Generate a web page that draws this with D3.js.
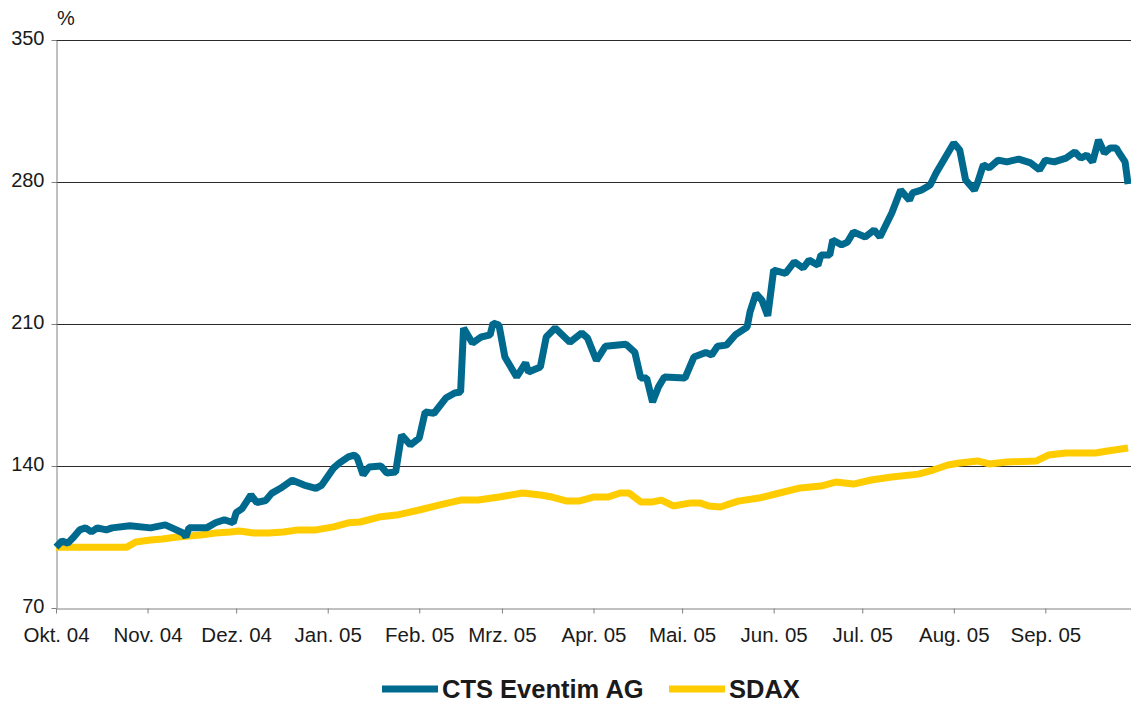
<!DOCTYPE html>
<html>
<head>
<meta charset="utf-8">
<script src="https://cdn.jsdelivr.net/npm/d3@7"></script>
<style>
  body { margin: 0; background: #fff; }
  svg { display: block; font-family: "Liberation Sans", Arial, sans-serif; }
</style>
</head>
<body>
<div id="chart"></div>
<script>
// Days since 1 Oct 2004 and indexed value (%)
const ctsDays = [0, 2, 4, 6, 8, 10, 12, 14, 17, 19, 25, 32, 37, 40, 43, 44, 45, 51, 54, 57, 60, 61, 63, 66, 68, 71, 73, 76, 80, 84, 88, 90, 94, 96, 99, 101, 102, 104, 106, 110, 112, 115, 117, 120, 123, 125, 128, 132, 135, 137, 138, 141, 144, 147, 148, 150, 152, 156, 159, 160, 164, 166, 169, 174, 178, 180, 183, 186, 193, 196, 198, 200, 202, 204, 206, 213, 216, 220, 222, 224, 227, 230, 234, 235, 237, 239, 241, 243, 247, 250, 253, 255, 258, 259, 262, 263, 266, 268, 270, 274, 277, 279, 283, 286, 289, 290, 293, 296, 298, 300, 304, 306, 308, 311, 312, 314, 316, 319, 322, 326, 330, 333, 335, 338, 342, 345, 347, 349, 351, 353, 355, 357, 359, 360, 362, 363];
const ctsValues = [100, 103, 102, 105, 108.5, 109.5, 107.5, 109.5, 108.5, 109.5, 110.5, 109.5, 111, 109, 107, 105, 109.5, 109.5, 112, 113.5, 112, 117, 119, 125.7, 122, 123, 126.5, 129, 133, 130.6, 129, 130.6, 139, 141.5, 144.5, 145.4, 144, 135.6, 139.5, 140, 136.5, 137, 155.3, 150.4, 153.8, 166.6, 166, 173.5, 176, 176.5, 208, 200.6, 203.6, 204.6, 210.5, 209.5, 193.7, 183.9, 190.8, 186.3, 188.8, 203.6, 208, 201, 205.6, 203, 192, 199, 200, 196, 183.4, 183.4, 171.5, 179, 183.9, 183.4, 193.7, 196, 194.7, 199, 199.6, 204.6, 208.5, 216, 225, 221.8, 214, 236.6, 235, 240.6, 237.6, 241.5, 239, 244, 244, 251.4, 249, 250.4, 255.3, 252.9, 256.3, 252.9, 264.7, 276, 271, 274.6, 276, 278.5, 284.4, 289.4, 299.2, 295.8, 281, 276, 279.5, 288.4, 287, 290.8, 289.9, 291.3, 289.4, 286, 290.8, 289.9, 291.8, 294.8, 291.8, 293.3, 289.9, 300.7, 294.3, 296.8, 296.8, 294.3, 289.9, 279];

const sdaxDays = [0, 24, 27, 32, 36, 41, 45, 49, 54, 59, 62, 67, 72, 77, 82, 88, 94, 99, 103, 110, 116, 123, 130, 137, 143, 150, 158, 164, 168, 173, 177, 182, 187, 191, 194, 198, 202, 205, 209, 215, 218, 221, 225, 227, 231, 238, 245, 252, 259, 264, 270, 276, 283, 292, 297, 302, 306, 312, 316, 322, 332, 336, 342, 352, 356, 363];
const sdaxValues = [100, 100, 102.5, 103.5, 104, 105, 105.5, 106, 107, 107.5, 108, 107, 107, 107.5, 108.5, 108.5, 110, 112, 112.4, 115, 116, 118.3, 120.8, 123.2, 123.2, 124.7, 126.7, 125.7, 124.7, 122.7, 122.7, 124.7, 124.7, 126.7, 126.7, 122.3, 122.3, 123.2, 120.3, 121.8, 121.8, 120.3, 119.8, 120.8, 122.7, 124.2, 126.7, 129.2, 130.1, 132.1, 131.1, 133.1, 134.6, 136, 138, 140.5, 141.5, 142.5, 141, 142, 142.5, 145.4, 146.4, 146.4, 147.4, 148.9];

const monthLabels = ["Okt. 04", "Nov. 04", "Dez. 04", "Jan. 05", "Feb. 05", "Mrz. 05",
  "Apr. 05", "Mai. 05", "Jun. 05", "Jul. 05", "Aug. 05", "Sep. 05"];
const yTicks = [70, 140, 210, 280, 350];
const seriesNames = ["CTS Eventim AG", "SDAX"];
const seriesColors = ["#006a8e", "#ffcc00"];

const width = 1131;
const height = 704;
const margins = { top: 40, right: 0, left: 56, bottom: 96 };

const start = new Date(2004, 9, 1);
const toSeries = (days, values) => days.map((d, i) => ({ date: d3.timeDay.offset(start, d), value: values[i] }));
const cts = toSeries(ctsDays, ctsValues);
const sdax = toSeries(sdaxDays, sdaxValues);

const xScale = d3.scaleTime()
  .domain([start, new Date(2005, 8, 30)])
  .range([margins.left, width - margins.right]);

const yScale = d3.scaleLinear()
  .domain([70, 350])
  .range([height - margins.bottom, margins.top]);

const svg = d3.select('#chart')
  .append('svg')
  .attr('width', width)
  .attr('height', height);

// horizontal grid lines
svg.append('g')
  .selectAll('line')
  .data(yTicks.slice(1))
  .join('line')
  .attr('x1', margins.left)
  .attr('x2', width)
  .attr('y1', d => Math.round(yScale(d)) + 0.5)
  .attr('y2', d => Math.round(yScale(d)) + 0.5)
  .attr('stroke', '#2a2a2a')
  .attr('stroke-width', 1);

// y axis
const yAxis = d3.axisLeft(yScale)
  .tickValues(yTicks)
  .tickSize(5)
  .tickSizeOuter(0)
  .tickPadding(7);

const gy = svg.append('g')
  .attr('transform', `translate(${margins.left + 0.5},0)`)
  .call(yAxis);
gy.select('.domain').attr('stroke', '#808080');
gy.selectAll('.tick line').attr('stroke', '#808080');
gy.selectAll('.tick text')
  .attr('font-size', 20)
  .attr('fill', '#1a1a1a')
  .attr('dy', '0.22em');

// x axis
const monthTicks = d3.timeMonth.range(start, new Date(2005, 9, 1));
const xAxis = d3.axisBottom(xScale)
  .tickValues(monthTicks)
  .tickFormat((d, i) => monthLabels[i])
  .tickSize(5)
  .tickSizeOuter(0)
  .tickPadding(14);

const gx = svg.append('g')
  .attr('transform', `translate(0,${height - margins.bottom + 0.5})`)
  .call(xAxis);
gx.select('.domain').attr('stroke', '#808080');
gx.selectAll('.tick line').attr('stroke', '#808080');
gx.selectAll('.tick text')
  .attr('font-size', 20.5)
  .attr('fill', '#1a1a1a');

svg.append('text')
  .attr('x', margins.left + 1)
  .attr('y', 25)
  .attr('font-size', 20)
  .attr('fill', '#1a1a1a')
  .text('%');

// lines
const line = d3.line()
  .x(d => xScale(d.date))
  .y(d => yScale(d.value));

svg.append('path')
  .datum(sdax)
  .attr('d', line)
  .attr('fill', 'none')
  .attr('stroke', seriesColors[1])
  .attr('stroke-width', 7)
  .attr('stroke-linejoin', 'bevel');

svg.append('path')
  .datum(cts)
  .attr('d', line)
  .attr('fill', 'none')
  .attr('stroke', seriesColors[0])
  .attr('stroke-width', 7)
  .attr('stroke-linejoin', 'bevel');

// legend (kept clear of the bottom edge)
const legendX = [382, 669];
const legend = svg.append('g')
  .selectAll('g')
  .data(seriesNames)
  .join('g')
  .attr('transform', (d, i) => `translate(${legendX[i]},689)`);

legend.append('line')
  .attr('x1', 0)
  .attr('x2', 56)
  .attr('stroke', (d, i) => seriesColors[i])
  .attr('stroke-width', 7);

legend.append('text')
  .attr('x', 60)
  .attr('y', 9)
  .attr('font-size', 25.5)
  .attr('font-weight', 'bold')
  .attr('fill', '#1a1a1a')
  .text(d => d);
</script>
</body>
</html>
